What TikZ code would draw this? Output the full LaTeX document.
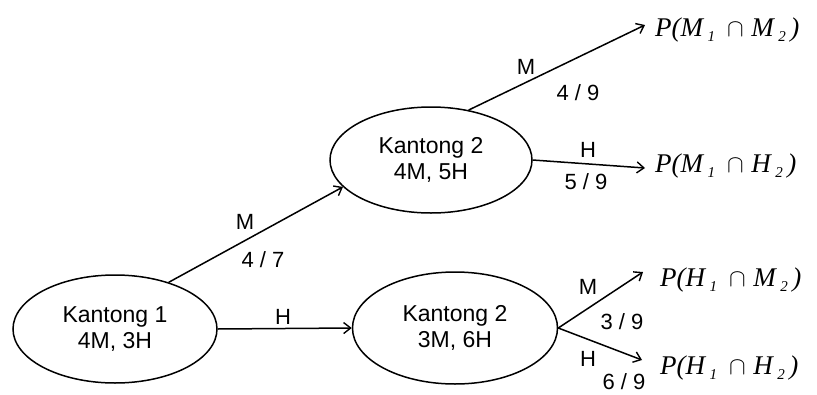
\documentclass[tikz,border=0pt]{standalone}
\usepackage{fontspec}
\setmainfont{Liberation Sans}
\newfontfamily\tnr{Liberation Serif}
\usetikzlibrary{shapes.geometric,arrows.meta}
\newcommand\pint[2]{{\tnr\itshape\fontsize{27}{30}\selectfont P(#1\,\raisebox{-5pt}{\fontsize{15}{16}\selectfont 1}\;\,$\cap$\;#2\,\raisebox{-5pt}{\fontsize{15}{16}\selectfont 2}\,)}}
\tikzset{
  bag/.style={draw, ellipse, line width=1.5pt, align=center, font=\fontsize{23}{26}\selectfont},
  conn/.style={line width=1.5pt, -{Straight Barb[length=7pt,width=11pt,line width=1.4pt]}},
  lbl/.style={font=\fontsize{22}{24}\selectfont, inner sep=0pt},
  res/.style={anchor=west, inner sep=0pt}
}
\begin{document}
\begin{tikzpicture}[x=1pt,y=-1pt]
\useasboundingbox (0,0) rectangle (817,394);
\node[bag, minimum width=204pt, minimum height=108pt] (k1) at (115,329) {Kantong 1\\4M, 3H};
\node[bag, minimum width=202pt, minimum height=106pt] (k2a) at (431,160) {Kantong 2\\4M, 5H};
\node[bag, minimum width=205pt, minimum height=112pt] (k2b) at (455,328) {Kantong 2\\3M, 6H};
\node[res] (pmm) at (655,30) {\pint{M}{M}};
\node[res] (pmh) at (655,166) {\pint{M}{H}};
\node[res] (phm) at (660,280) {\pint{H}{M}};
\node[res] (phh) at (660,368) {\pint{H}{H}};
\draw[conn] (k1.41) -- (k2a.197);
\draw[conn] (k1.east) -- (k2b.west);
\draw[conn] (k2a.53) -- ([xshift=-10pt,yshift=5pt]pmm.west);
\draw[conn] (k2a.east) -- ([xshift=-10pt,yshift=-2pt]pmh.west);
\draw[conn] (k2b.east) -- ([xshift=-17pt,yshift=8pt]phm.west);
\draw[conn] (k2b.east) -- ([xshift=-18pt,yshift=8pt]phh.west);
\node[lbl] (l1) at (245,222) {M};
\node[lbl] (l2) at (263,260) {4 / 7};
\node[lbl] (l3) at (283,317) {H};
\node[lbl] (l4) at (526,67) {M};
\node[lbl] (l5) at (578,93) {4 / 9};
\node[lbl] (l6) at (588,150) {H};
\node[lbl] (l7) at (586,182) {5 / 9};
\node[lbl] (l8) at (588,287) {M};
\node[lbl] (l9) at (622,322) {3 / 9};
\node[lbl] (l10) at (588,359) {H};
\node[lbl] (l11) at (624,382) {6 / 9};
\end{tikzpicture}
\end{document}
